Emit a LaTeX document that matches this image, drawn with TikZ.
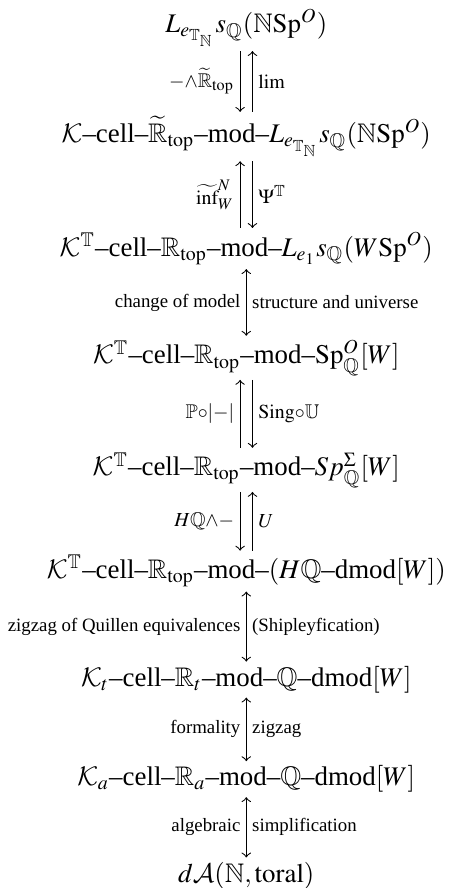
\documentclass[tikz,border=0pt]{standalone}
\usepackage{amssymb}
\usepackage{mathptmx}
\usepackage{fontspec}
\setmainfont{Liberation Serif}
\usepackage{tikz}
\usetikzlibrary{positioning,calc}
\DeclareMathAlphabet{\mathcal}{OMS}{cmsy}{m}{n}

\newcommand{\Ttop}{\mathbb{R}_{\mathrm{top}}}
\newcommand{\Lloc}{L_{e_{\mathbb{T}_{\mathbb{N}}}}s_{\mathbb{Q}}(\mathbb{N}\mathrm{Sp}^{O})}

\begin{document}
\begin{tikzpicture}[
    obj/.style={anchor=base,inner xsep=0pt,inner ysep=1.5pt},
    lab/.style={font=\scriptsize,inner sep=2pt},
    mlab/.style={inner sep=2pt},
    dbl/.style={xshift=#1},
  ]
  \useasboundingbox (-3.22,0) rectangle (2.66,-11.61);
  % the chain of categories
  \node[obj] (c1) at (0,-0.427) {$\Lloc$};
  \node[obj] (c2) at (0,-1.867) {$\mathcal{K}$--cell--$\widetilde{\mathbb{R}}_{\mathrm{top}}$--mod--$\Lloc$};
  \node[obj] (c3) at (0,-3.350) {$\mathcal{K}^{\mathbb{T}}$--cell--$\Ttop$--mod--$L_{e_1}s_{\mathbb{Q}}(W\mathrm{Sp}^{O})$};
  \node[obj] (c4) at (0,-4.759) {$\mathcal{K}^{\mathbb{T}}$--cell--$\Ttop$--mod--$\mathrm{Sp}^{O}_{\mathbb{Q}}[W]$};
  \node[obj] (c5) at (0,-6.221) {$\mathcal{K}^{\mathbb{T}}$--cell--$\Ttop$--mod--$Sp^{\Sigma}_{\mathbb{Q}}[W]$};
  \node[obj] (c6) at (0,-7.566) {$\mathcal{K}^{\mathbb{T}}$--cell--$\Ttop$--mod--$(H\mathbb{Q}$--dmod$[W])$};
  \node[obj] (c7) at (0,-8.973) {$\mathcal{K}_t$--cell--$\mathbb{R}_t$--mod--$\mathbb{Q}$--dmod$[W]$};
  \node[obj] (c8) at (0,-10.275) {$\mathcal{K}_a$--cell--$\mathbb{R}_a$--mod--$\mathbb{Q}$--dmod$[W]$};
  \node[obj] (c9) at (0,-11.534) {$d\mathcal{A}(\mathbb{N},\mathrm{toral})$};

  % adjunctions
  \draw[->] ([dbl=-2.3pt]c1.south) -- ([dbl=-2.3pt]c1.south |- c2.north)
    node[midway,left,mlab] (l12) {$\scriptstyle -\wedge\widetilde{\mathbb{R}}_{\mathrm{top}}$};
  \draw[<-] ([dbl=2.3pt]c1.south) -- ([dbl=2.3pt]c1.south |- c2.north)
    node[midway,right,mlab] (r12) {$\scriptstyle \lim$};
  \draw[<-] ([dbl=-2.3pt]c2.south) -- ([dbl=-2.3pt]c2.south |- c3.north)
    node[midway,left,mlab] (l23) {$\scriptstyle \widetilde{\inf}^{N}_{W}$};
  \draw[->] ([dbl=2.3pt]c2.south) -- ([dbl=2.3pt]c2.south |- c3.north)
    node[midway,right,mlab] (r23) {$\scriptstyle \Psi^{\mathbb{T}}$};
  \draw[<->] (c3) -- (c4)
    node[midway,left,lab] (l34) {change of model}
    node[midway,right,lab] (r34) {structure and universe};
  \draw[<-] ([dbl=-2.3pt]c4.south) -- ([dbl=-2.3pt]c4.south |- c5.north)
    node[midway,left,mlab] (l45) {$\scriptstyle \mathbb{P}\circ|-|$};
  \draw[->] ([dbl=2.3pt]c4.south) -- ([dbl=2.3pt]c4.south |- c5.north)
    node[midway,right,mlab] (r45) {$\scriptstyle \mathrm{Sing}\circ\mathbb{U}$};
  \draw[->] ([dbl=-2.3pt]c5.south) -- ([dbl=-2.3pt]c5.south |- c6.north)
    node[midway,left,mlab] (l56) {$\scriptstyle H\mathbb{Q}\wedge-$};
  \draw[<-] ([dbl=2.3pt]c5.south) -- ([dbl=2.3pt]c5.south |- c6.north)
    node[midway,right,mlab] (r56) {$\scriptstyle U$};
  \draw[<->] (c6) -- (c7)
    node[midway,left,lab] (l67) {zigzag of Quillen equivalences}
    node[midway,right,lab] (r67) {(Shipleyfication)};
  \draw[<->] (c7) -- (c8)
    node[midway,left,lab] (l78) {formality}
    node[midway,right,lab] (r78) {zigzag};
  \draw[<->] (c8) -- (c9)
    node[midway,left,lab] (l89) {algebraic}
    node[midway,right,lab] (r89) {simplification};
\end{tikzpicture}
\end{document}
